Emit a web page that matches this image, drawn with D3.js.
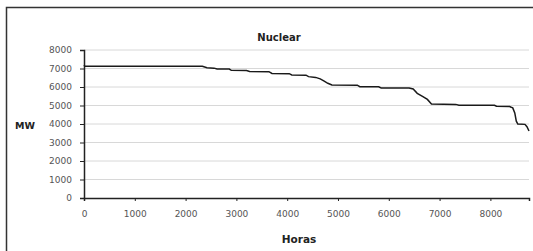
<!DOCTYPE html>
<html lang="en">
<head>
   <meta charset="utf-8">
   <title>Nuclear</title>
   <script src="https://d3js.org/d3.v7.min.js"></script>
   <style>
      body { margin: 0; background: #fff; }
      text { font-family: "DejaVu Sans", sans-serif; }
      .tick text { fill: #555; font-size: 9px; }
      .grid line { stroke: #d8d8d8; stroke-width: 1; }
   </style>
</head>
<body>
<svg id="chart" width="533" height="251"></svg>
<script>

   // duration curve, hours sorted by output
   var hours = [0, 15, 2330, 2420, 2560, 2620, 2860, 2900, 3200, 3260, 3640, 3700, 4040, 4090,
                4370, 4420, 4560, 4650, 4720, 4800, 4880, 5380, 5430, 5800, 5850, 6400, 6480,
                6560, 6680, 6760, 6840, 7320, 7380, 8080, 8120, 8380, 8440, 8480, 8510, 8540,
                8680, 8720, 8760];
   var mw = [7180, 7120, 7120, 7040, 7020, 6970, 6970, 6900, 6890, 6840, 6830, 6730, 6720, 6650,
             6640, 6560, 6520, 6440, 6330, 6200, 6110, 6100, 6020, 6010, 5950, 5940, 5890,
             5660, 5470, 5330, 5080, 5060, 5020, 5010, 4960, 4940, 4870, 4600, 4150, 4000,
             3980, 3850, 3620];

   var xTicks = [0, 1000, 2000, 3000, 4000, 5000, 6000, 7000, 8000];
   var yTicks = [0, 1000, 2000, 3000, 4000, 5000, 6000, 7000, 8000];

   var data = hours.map(function(h, i){ return {h: h, v: mw[i]}; });

   var svg = d3.select('#chart');

   // outer frame (runs off the right / bottom)
   svg.append('rect')
      .attr('x', 6.5).attr('y', 7.5)
      .attr('width', 600).attr('height', 300)
      .attr('fill', 'none')
      .attr('stroke', '#333')
      .attr('stroke-width', 1.5);

   var plotL = 84, plotR = 529, plotT = 50, plotB = 198;

   var x = d3.scaleLinear().domain([0, 8760]).range([plotL, plotR]);
   var y = d3.scaleLinear().domain([0, 8000]).range([plotB, plotT]);

   // gridlines
   svg.append('g')
      .attr('class', 'grid')
      .selectAll('line')
      .data(yTicks.slice(1))
      .enter()
      .append('line')
      .attr('x1', plotL).attr('x2', plotR)
      .attr('y1', function(d){ return y(d); })
      .attr('y2', function(d){ return y(d); });

   // Y axis
   var yAxis = svg.append('g')
      .attr('transform', 'translate(' + plotL + ',0)')
      .call(d3.axisLeft(y).tickValues(yTicks).tickSize(4).tickPadding(8).tickFormat(d3.format('d')));

   // X axis
   var xAxis = svg.append('g')
      .attr('transform', 'translate(0,' + plotB + ')')
      .call(d3.axisBottom(x).tickValues(xTicks).tickSize(3).tickPadding(10).tickFormat(d3.format('d')));

   [yAxis, xAxis].forEach(function(a){
      a.select('.domain').attr('stroke', '#222').attr('stroke-width', 1.5);
      a.selectAll('.tick line').attr('stroke', '#222');
   });

   // the curve
   var line = d3.line()
      .x(function(d){ return x(d.h); })
      .y(function(d){ return y(d.v); });

   svg.append('path')
      .datum(data)
      .attr('d', line)
      .attr('fill', 'none')
      .attr('stroke', '#1a1a1a')
      .attr('stroke-width', 1.5);

   // titles
   svg.append('text')
      .attr('x', 279).attr('y', 41)
      .attr('text-anchor', 'middle')
      .style('font-size', '10px').style('font-weight', 'bold').style('fill', '#222')
      .text('Nuclear');

   svg.append('text')
      .attr('x', 25).attr('y', 129)
      .attr('text-anchor', 'middle')
      .style('font-size', '9.5px').style('font-weight', 'bold').style('fill', '#222')
      .text('MW');

   svg.append('text')
      .attr('x', 299).attr('y', 243)
      .attr('text-anchor', 'middle')
      .style('font-size', '10.5px').style('font-weight', 'bold').style('fill', '#222')
      .text('Horas');

</script>
</body>
</html>
